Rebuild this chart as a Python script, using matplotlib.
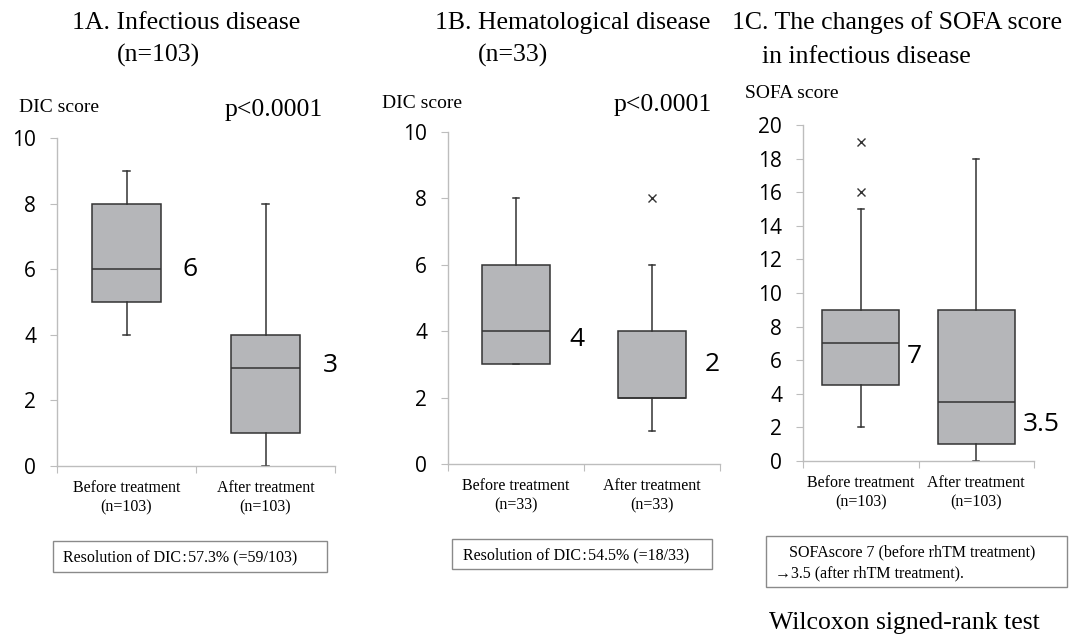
import matplotlib
matplotlib.use("Agg")
import matplotlib.pyplot as plt
from matplotlib.patches import Rectangle

# box statistics: [before, after]
inf_q1 = [5, 1]
inf_med = [6, 3]
inf_q3 = [8, 4]
inf_lo = [4, 0]
inf_hi = [9, 8]
inf_out = [[], []]

hem_q1 = [3, 2]
hem_med = [4, 2]
hem_q3 = [6, 4]
hem_lo = [3, 1]
hem_hi = [8, 6]
hem_out = [[], [8]]

sofa_q1 = [4.5, 1]
sofa_med = [7, 3.5]
sofa_q3 = [9, 9]
sofa_lo = [2, 0]
sofa_hi = [15, 18]
sofa_out = [[16, 19], []]

groups = ["Before treatment", "After treatment"]
n_inf = 103
n_hem = 33

W, H = 1074, 636
SERIF = "Liberation Serif"
SANS = "Open Sans"
BOXC = "#b5b6b9"
EDGE = "#333333"
SPINE = "#bdbdbd"


def px(x, y):
    # pixel position -> figure fraction
    return x / W, 1 - y / H


def make_stats(q1, med, q3, lo, hi, out):
    return [dict(q1=q1[i], med=med[i], q3=q3[i], whislo=lo[i], whishi=hi[i],
                 fliers=out[i]) for i in range(len(q1))]


def draw_panel(rect, stats, n, ymax, width, lab_y, lab_dx):
    l, r, t, b = rect
    ax = fig.add_axes([l / W, 1 - b / H, (r - l) / W, (b - t) / H])
    lc = dict(color=EDGE, linewidth=1.1)
    ax.bxp(stats, positions=[1, 2], widths=width, patch_artist=True,
           boxprops=dict(facecolor=BOXC, edgecolor=EDGE, linewidth=1.1),
           medianprops=lc, whiskerprops=lc, capprops=lc,
           capwidths=0.05,
           flierprops=dict(marker="x", markeredgecolor=EDGE, markersize=6,
                           markeredgewidth=1))
    ax.set_xlim(0.5, 2.5)
    ax.set_ylim(0, ymax)
    ax.set_yticks(range(0, ymax + 1, 2))
    ax.set_xticks([0.5, 1.5, 2.5], labels=["", "", ""])
    ax.set_xticks([1, 2], labels=[f"{g}\n(n={n})" for g in groups], minor=True)
    for lab in ax.get_xticklabels(minor=True):
        lab.set_family(SERIF)
        lab.set_fontsize(11.5)
        lab.set_linespacing(1.3)
    for lab in ax.get_yticklabels():
        lab.set_family(SANS)
        lab.set_fontsize(15)
    ax.tick_params(axis="x", which="minor", length=0, pad=10)
    ax.tick_params(axis="x", which="major", length=5, color=SPINE)
    ax.tick_params(axis="y", length=5, color=SPINE, pad=10)
    for s in ["top", "right"]:
        ax.spines[s].set_visible(False)
    for s in ["left", "bottom"]:
        ax.spines[s].set_color(SPINE)
        ax.spines[s].set_linewidth(1)
    ax.patch.set_alpha(0)
    # median value labels
    for i, st in enumerate(stats):
        ax.text(i + 1 + width / 2 + lab_dx[i], lab_y[i], f"{st['med']:g}",
                family=SANS, fontsize=19, ha="left", va="center")
    return ax


fig = plt.figure(figsize=(W / 100, H / 100), dpi=100)

# 1A
draw_panel((57, 335, 138, 466),
           make_stats(inf_q1, inf_med, inf_q3, inf_lo, inf_hi, inf_out),
           n_inf, 10, 0.5, [6, 3.05], [0.15, 0.16])
# 1B
draw_panel((448, 720, 132, 464),
           make_stats(hem_q1, hem_med, hem_q3, hem_lo, hem_hi, hem_out),
           n_hem, 10, 0.5, [3.75, 3.0], [0.145, 0.14])
# 1C
draw_panel((803, 1034, 125, 461),
           make_stats(sofa_q1, sofa_med, sofa_q3, sofa_lo, sofa_hi, sofa_out),
           n_inf, 20, 0.67, [6.2, 2.15], [0.065, 0.07])

# titles and labels
def ftext(x, y, s, size, ha="left", family=SERIF):
    fig.text(*px(x, y), s, fontsize=size, family=family, ha=ha, va="center")

ftext(72, 23, "1A. Infectious disease", 18.5)
ftext(117, 55, "(n=103)", 18.5)
ftext(435, 23, "1B. Hematological disease", 18.5)
ftext(478, 55, "(n=33)", 18.5)
ftext(732, 23, "1C. The changes of SOFA score", 18.5)
ftext(762, 57, "in infectious disease", 18.5)

ftext(19, 108, "DIC score", 14)
ftext(225, 110, "p<0.0001", 18.5)
ftext(382, 103, "DIC score", 14)
ftext(614, 105, "p<0.0001", 18.5)
ftext(745, 93, "SOFA score", 14)

# boxed notes
def note_box(x0, y0, x1, y1):
    fig.add_artist(Rectangle(px(x0, y1), (x1 - x0) / W, (y1 - y0) / H,
                             transform=fig.transFigure, fill=False,
                             edgecolor="#8a8a8a", linewidth=1))

NOTE_FONT = [SERIF, "DejaVu Serif"]
note_box(53, 541, 327, 572)
fig.text(*px(63, 557), "Resolution of DIC\u200a:\u200a57.3% (=59/103)", fontsize=11.5,
         family=NOTE_FONT, ha="left", va="center")
note_box(452, 539, 712, 569)
fig.text(*px(463, 555), "Resolution of DIC\u200a:\u200a54.5% (=18/33)", fontsize=11.5,
         family=NOTE_FONT, ha="left", va="center")
note_box(766, 536, 1067, 587)
fig.text(*px(789, 552), "SOFAscore 7 (before rhTM treatment)", fontsize=11.5,
         family=NOTE_FONT, ha="left", va="center")
fig.text(*px(775, 573), "\u21923.5 (after rhTM treatment).", fontsize=11.5,
         family=NOTE_FONT, ha="left", va="center")

ftext(769, 623, "Wilcoxon signed-rank test", 18.5)

fig.savefig("out.png", dpi=100)
